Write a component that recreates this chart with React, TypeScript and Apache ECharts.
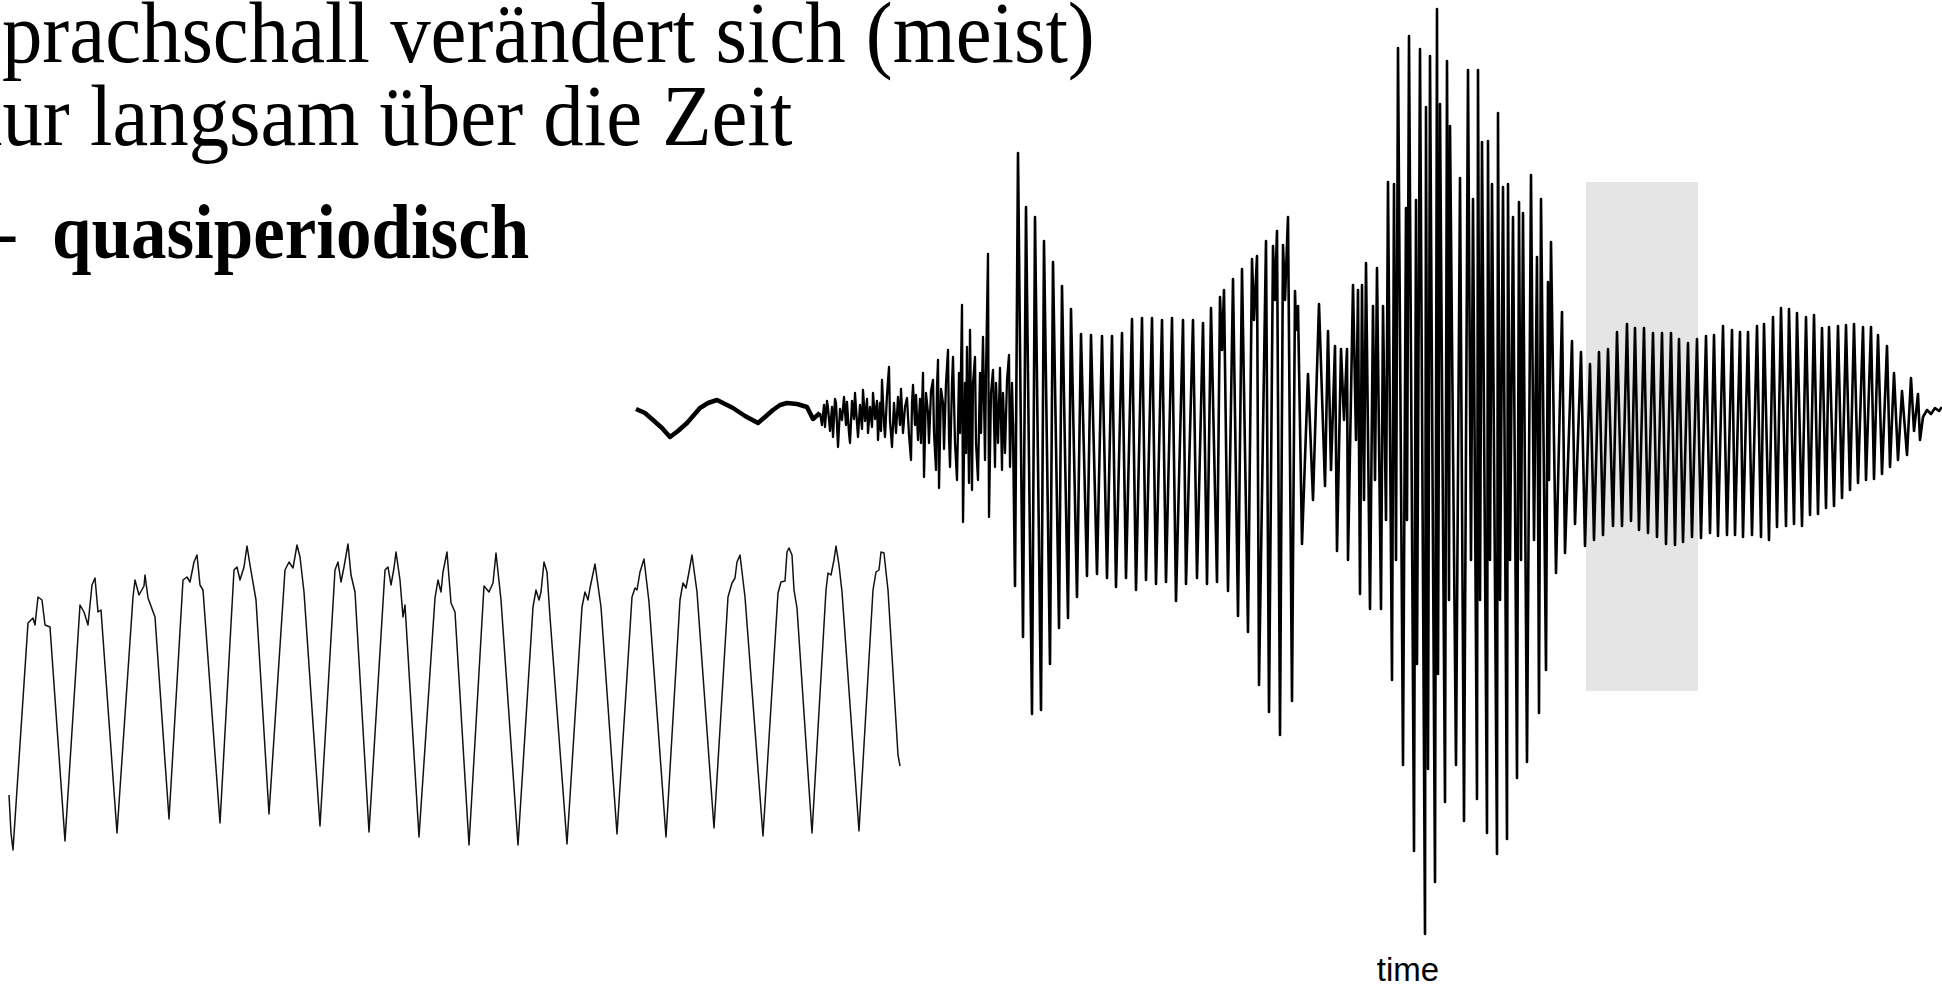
import React, { useEffect, useRef } from "react";
import * as echarts from "echarts";

// ---- Whole utterance: time in ms, amplitude in arbitrary units ----
const onsetWave: [number, number][] = [
  [1, 4], [10, 0], [18, -7], [27, -15], [35, -24], [43, -18], [52, -10], [65, 5], [73, 10], [82, 13],
  [90, 9], [98, 5], [110, -3], [123, -10], [130, -4], [138, 3], [145, 8], [152, 10], [162, 9], [172, 6],
  [178, -6], [185, 0],
];

const fricationNoise: [number, number][] = [
  [185, 0], [187, -12], [189, 8], [190, -14], [192, 12], [193, 5], [195, -18], [197, 6], [198, -24],
  [200, 14], [201, 10], [203, -34], [205, 4], [207, -7], [209, 16], [211, -12], [212, 11], [214, -20],
  [215, -30], [217, 12], [219, -6], [220, 20], [222, -10], [223, -24], [225, 8], [227, -16], [228, 23],
  [230, -8], [232, 14], [233, -20], [235, 6], [237, -14], [238, 20], [240, -6], [242, 12], [243, -27],
  [245, 10], [246, -18], [247, 33], [249, -10], [250, -24], [252, 18], [254, 46], [255, -8], [257, -34],
  [259, 10], [261, -20], [263, 16], [265, -12], [266, 24], [268, -20], [270, 6], [272, 15], [274, -22],
  [276, -47], [277, 10], [278, 28], [280, -12], [281, 18], [283, -27], [285, 14], [286, -30], [288, 40],
  [289, -64], [291, 20], [293, 0], [294, -30], [296, 22], [298, 33], [299, -20], [301, -57], [302, 26],
  [303, 53], [304, -75], [306, 24], [308, 10], [309, -36], [311, 30], [313, 63], [314, -24], [315, -54],
  [317, 30], [318, 56], [320, -30], [322, -67], [324, 40], [325, -20], [327, 108], [328, -109], [330, 30],
  [331, -40], [332, 66], [334, -70], [335, 83], [337, -77], [338, 30], [340, 56], [341, -30], [343, -67],
  [345, 40], [346, -20], [348, 76], [350, -47], [351, 40], [353, 159], [354, -104], [356, 20], [358, 43],
  [360, -54], [361, 30], [363, -30], [365, 45], [367, -57], [368, 20], [370, -40], [372, 33], [374, 58],
  [375, -54], [377, 30], [378, -10],
];

const voicedA: [number, number][] = [
  [380, -173], [383, 260], [388, -224], [391, 206], [397, -301], [400, 196], [406, -297], [409, 172],
  [415, -251], [418, 151], [424, -215], [427, 127], [433, -205], [436, 104], [442, -184], [446, 79],
  [452, -163], [456, 78], [462, -161], [467, 77], [472, -165], [477, 77], [481, -174], [487, 80],
  [491, -165], [497, 94], [501, -177], [507, 95], [511, -167], [517, 95], [521, -171], [527, 93],
  [531, -169], [537, 95], [541, -188], [548, 93], [551, -171], [558, 93], [562, -165], [568, 90],
  [572, -171], [576, 105], [582, -169], [585, 116], [587, 63], [589, 123], [593, -178], [598, 134],
  [603, -203], [607, 144], [613, -219], [617, 154], [619, 93], [622, 157], [624, -272], [631, 172],
  [634, -299], [638, 167], [640, 113], [642, 182], [645, -322], [648, 168], [650, 113], [653, 196],
  [657, -288], [660, 122], [661, 83], [663, 107], [667, -131], [673, 39], [678, -87], [684, 109], [690, -73],
];

const burst: [number, number][] = [
  [693, 82], [696, -57], [700, 67], [702, -138], [706, 64], [709, -7], [712, 64], [713, -147], [718, 128],
  [721, -27], [723, 123], [725, -181], [727, 128], [729, -87], [731, 150], [735, -196], [738, 107],
  [740, -67], [742, 145], [746, -196], [748, 107], [751, -107], [753, 231], [757, -267], [759, 229],
  [761, -147], [763, 365], [768, -352], [771, 205], [772, -107], [774, 377], [779, -438], [781, 213],
  [782, -251], [785, 364], [790, -521], [791, 306], [793, -356], [795, 357], [800, -469], [802, 404],
  [803, -261], [805, 309], [810, -389], [812, 352], [814, -187], [815, 287], [821, -352], [825, 235],
  [829, -408], [833, 343], [836, -147], [838, 214], [842, -386], [843, 343], [845, -187], [847, 271],
  [852, -420], [853, 272], [855, -147], [857, 229], [862, -441], [863, 300], [865, -187], [868, 226],
  [872, -426], [873, 229], [875, -147], [878, 196], [882, -365], [884, 211], [886, -147], [888, 200],
  [892, -349], [896, 238], [899, -127], [902, 156], [904, -300], [906, 214], [911, -257], [913, 131],
  [914, -67], [916, 171], [921, -160],
];

const voicedB: [number, number][] = [
  [927, 101], [930, -140], [937, 72], [940, -111], [946, 61], [950, -133], [955, 49], [959, -127],
  [964, 61], [968, -122], [973, 64], [978, -113], [982, 81], [987, -113], [992, 89], [996, -108],
  [1000, 85], [1004, -117], [1009, 85], [1013, -120], [1018, 80], [1022, -124], [1027, 80], [1031, -131],
  [1036, 80], [1040, -132], [1044, 74], [1048, -129], [1053, 70], [1057, -124], [1062, 74], [1066, -125],
  [1071, 77], [1075, -120], [1079, 78], [1083, -123], [1088, 87], [1092, -122], [1097, 83], [1100, -122],
  [1105, 81], [1108, -124], [1113, 81], [1117, -122], [1122, 87], [1126, -124], [1129, 89], [1134, -127],
  [1138, 96], [1142, -114], [1146, 105], [1151, -113], [1154, 104], [1159, -111], [1162, 100], [1167, -113],
  [1171, 96], [1175, -102], [1179, 98], [1183, -101], [1187, 85], [1191, -95], [1194, 86], [1199, -93],
  [1203, 87], [1207, -85], [1211, 88], [1215, -77], [1219, 89], [1223, -70], [1228, 86], [1231, -67],
  [1236, 86], [1239, -66], [1243, 78], [1247, -61],
];

const decay: [number, number][] = [
  [1252, 67], [1255, -54], [1259, 40], [1263, -47], [1267, 22], [1272, -42], [1276, 35], [1279, -18],
  [1283, 19], [1285, -27], [1288, -4], [1292, 3], [1296, -1], [1300, 5], [1304, 2], [1307, 6],
];

// Highlighted excerpt of the utterance
const highlightTime = [951, 1063];
const highlightAmp = [-278, 231];

// ---- Zoomed excerpt: time in samples, amplitude in arbitrary units ----
const detailWave: [number, number][] = [
  [0, -98], [2, -136], [4, -153], [19, 74], [24, 79], [26, 72], [29, 100], [33, 97], [36, 72], [41, 70], [56, -144],
  [71, 92], [75, 85], [79, 72], [83, 112], [86, 119], [89, 85], [92, 87], [108, -136],
  [124, 100], [126, 117], [130, 102], [135, 111], [136, 122], [139, 99], [146, 80], [160, -122],
  [174, 117], [178, 120], [181, 115], [185, 135], [188, 142], [191, 112], [194, 107], [211, -126],
  [225, 127], [228, 130], [231, 117], [235, 130], [238, 151], [241, 132], [247, 97], [260, -117],
  [276, 127], [280, 135], [284, 129], [288, 152], [291, 140], [295, 105], [311, -129],
  [326, 127], [329, 135], [332, 115], [335, 130], [339, 153], [342, 122], [346, 105], [360, -135],
  [376, 127], [379, 130], [382, 112], [385, 129], [387, 145], [391, 117], [394, 80], [396, 92], [410, -140],
  [426, 99], [429, 117], [432, 105], [434, 125], [438, 145], [442, 94], [446, 85], [460, -148],
  [475, 111], [480, 105], [484, 114], [487, 144], [492, 97], [509, -148],
  [524, 90], [527, 107], [530, 97], [532, 105], [535, 135], [538, 125], [541, 80], [558, -147],
  [573, 90], [576, 105], [579, 97], [581, 109], [586, 133], [592, 90], [608, -137],
  [623, 100], [626, 109], [628, 107], [631, 125], [635, 138], [640, 95], [657, -140],
  [671, 97], [674, 114], [677, 109], [680, 125], [683, 142], [688, 105], [705, -131],
  [719, 100], [723, 114], [726, 119], [728, 135], [731, 142], [736, 100], [754, -139],
  [769, 104], [772, 115], [776, 116], [778, 145], [780, 149], [783, 142], [785, 107], [788, 89], [803, -136],
  [817, 107], [819, 124], [822, 122], [825, 137], [827, 151], [830, 132], [833, 105], [850, -134],
  [864, 107], [867, 125], [870, 127], [872, 145], [875, 144], [877, 125], [879, 107], [889, -58], [891, -69],
];

const titleLines = ["Sprachschall verändert sich (meist)", "nur langsam über die Zeit"];
const bulletDash = "–";
const bulletText = "quasiperiodisch";
const timeLabel = "time";

// voiced stretch starts where the frication noise ends
const voicedStretch = [fricationNoise[fricationNoise.length - 1], ...voicedA, ...burst, ...voicedB, ...decay];

const SERIF = '"Liberation Serif", "Times New Roman", serif';

function waveSeries(data: [number, number][], axis: number, width: number, color = "#000000") {
  return {
    type: "line",
    xAxisIndex: axis,
    yAxisIndex: axis,
    data,
    z: 3,
    silent: true,
    showSymbol: false,
    symbol: "none",
    lineStyle: { color, width, join: "round" },
  };
}

function buildOption(): echarts.EChartsCoreOption {
  return {
    animation: false,
    backgroundColor: "#ffffff",
    grid: [
      { left: 635, top: 0, width: 1307, height: 986 },
      { left: 9, top: 0, width: 900, height: 986 },
    ],
    xAxis: [
      { type: "value", gridIndex: 0, min: 0, max: 1307, show: false },
      { type: "value", gridIndex: 1, min: 0, max: 900, show: false },
    ],
    yAxis: [
      { type: "value", gridIndex: 0, min: -573, max: 413, show: false },
      { type: "value", gridIndex: 1, min: -289, max: 697, show: false },
    ],
    series: [
      {
        type: "line",
        xAxisIndex: 0,
        yAxisIndex: 0,
        data: [],
        z: 1,
        silent: true,
        markArea: {
          silent: true,
          itemStyle: { color: "#e5e5e5" },
          data: [
            [
              { coord: [highlightTime[0], highlightAmp[1]] },
              { coord: [highlightTime[1], highlightAmp[0]] },
            ],
          ],
        },
      },
      waveSeries(onsetWave, 0, 4.5),
      waveSeries(fricationNoise, 0, 2.3),
      waveSeries(voicedStretch, 0, 2.6),
      waveSeries(detailWave, 1, 1.5, "#111111"),
    ],
    graphic: [
      {
        type: "text",
        x: -43,
        y: 62 - 0.34 * 86,
        scaleX: 0.94,
        silent: true,
        style: { text: titleLines[0], fontFamily: SERIF, fontSize: 86, fill: "#000", align: "left", verticalAlign: "middle" },
      },
      {
        type: "text",
        x: -38,
        y: 145 - 0.34 * 86,
        scaleX: 0.94,
        silent: true,
        style: { text: titleLines[1], fontFamily: SERIF, fontSize: 86, fill: "#000", align: "left", verticalAlign: "middle" },
      },
      {
        type: "text",
        x: 15,
        y: 258 - 0.34 * 78,
        silent: true,
        style: { text: bulletDash, fontFamily: SERIF, fontSize: 78, fontWeight: "bold", fill: "#000", align: "right", verticalAlign: "middle" },
      },
      {
        type: "text",
        x: 52,
        y: 258 - 0.34 * 78,
        scaleX: 0.91,
        silent: true,
        style: { text: bulletText, fontFamily: SERIF, fontSize: 78, fontWeight: "bold", fill: "#000", align: "left", verticalAlign: "middle" },
      },
      {
        type: "text",
        x: 1408,
        y: 981 - 0.34 * 33,
        silent: true,
        style: { text: timeLabel, fontFamily: '"Liberation Sans", Arial, sans-serif', fontSize: 33, fill: "#000", align: "center", verticalAlign: "middle" },
      },
    ],
  };
}

export default function App() {
  const ref = useRef<HTMLDivElement>(null);

  useEffect(() => {
    if (!ref.current) return;
    const chart = echarts.init(ref.current, null, { renderer: "svg" });
    chart.setOption(buildOption());
    return () => chart.dispose();
  }, []);

  return (
    <div
      ref={ref}
      style={{ position: "fixed", left: 0, top: 0, width: 1942, height: 986, background: "#ffffff" }}
    />
  );
}
